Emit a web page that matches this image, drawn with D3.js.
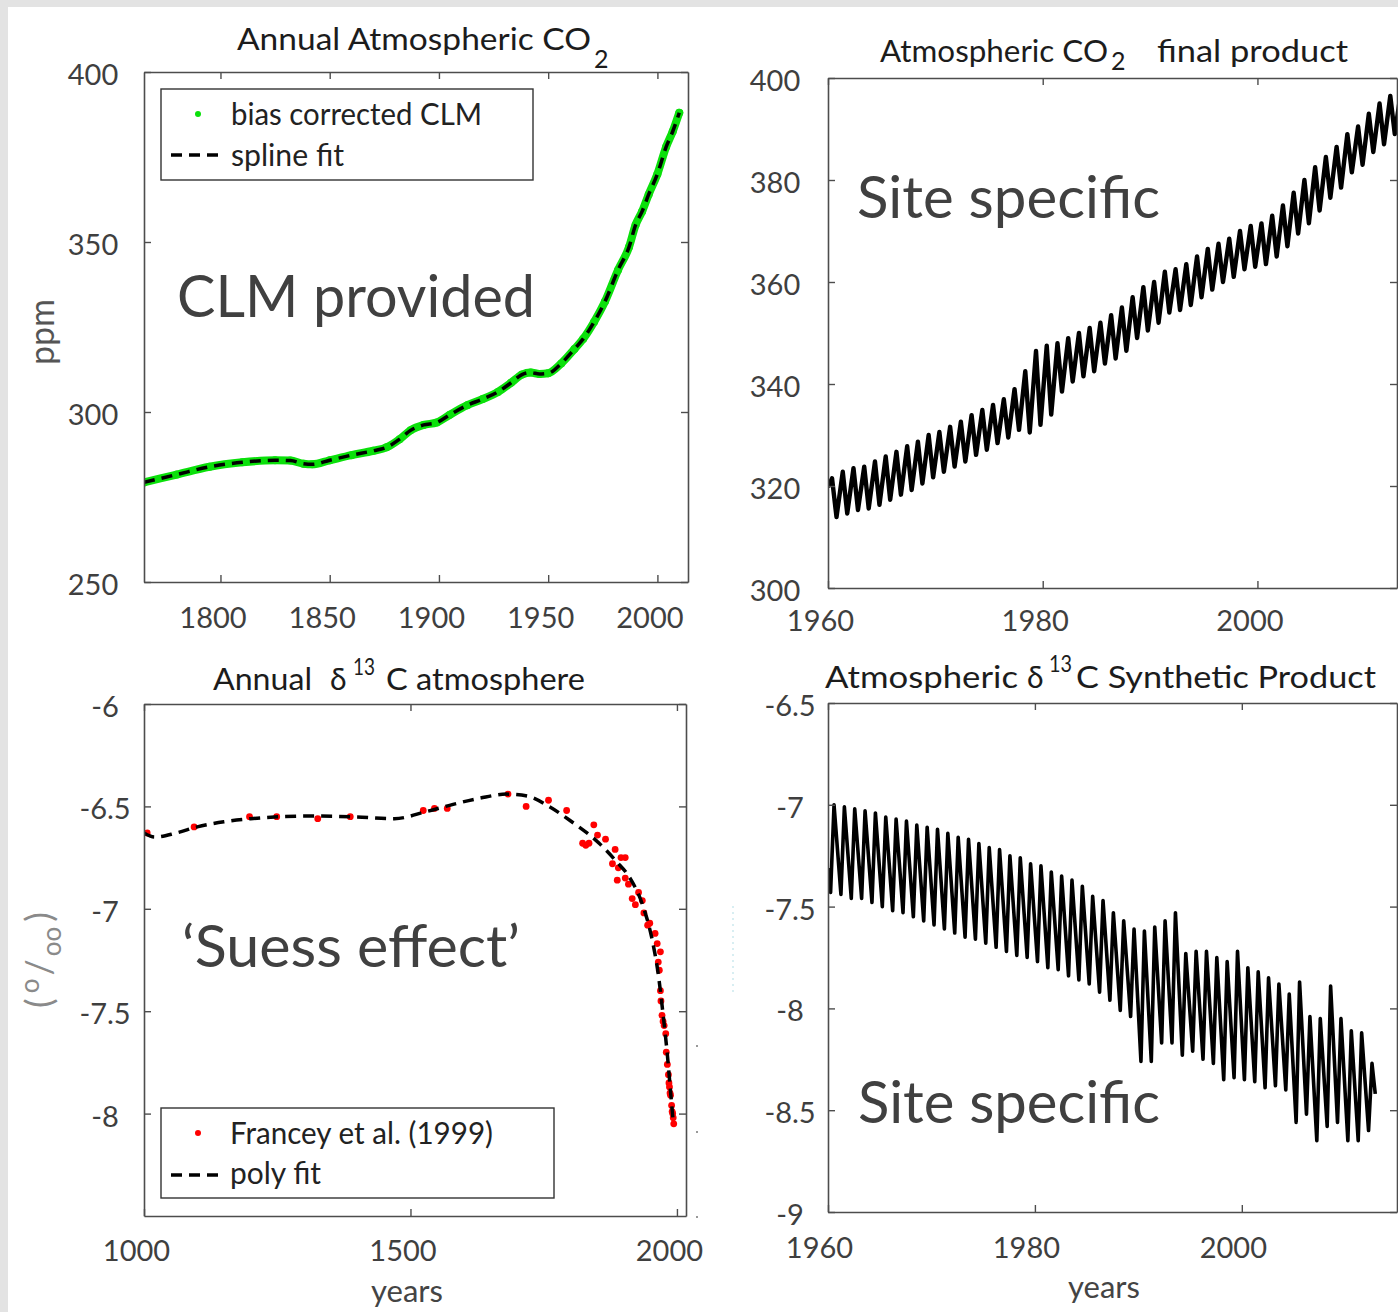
<!DOCTYPE html>
<html>
<head>
<meta charset="utf-8">
<script src="https://cdn.jsdelivr.net/npm/d3@7"></script>
<style>
body { margin: 0; background: #fff; }
</style>
</head>
<body>
<svg id="fig" width="1398" height="1312"></svg>
<script>
// ---------- DATA ----------
// top left: annual atmospheric CO2 (ppm), bias corrected CLM and its spline fit
const clmYears = [1765,1780,1795,1810,1825,1832,1838,1842,1850,1860,1870,1876,1882,1887,1893,1899,1905,1913,1920,1927,1933,1938,1942,1946,1950,1956,1962,1966,1971,1976,1982,1987,1990,1993,1996,2000,2004,2007,2010]
const clmPpm = [279.3,281.6,283.9,285.2,285.8,285.7,284.8,284.6,285.8,287.3,288.6,289.6,292.0,294.6,296.2,296.9,299.2,302.0,303.8,305.9,308.6,311.0,311.6,311.2,311.4,314.3,318.5,321.5,326.5,332.5,341.8,348.5,355.0,359.0,364.0,370.0,378.0,382.5,388.0]

// top right: site specific CO2, seasonal maximum / minimum of each year
const co2Years = d3.range(1960, 2014)
const co2Start = 319.8
const co2Peak = [321.5,322.8,323.5,323.8,324.8,325.8,326.7,327.8,328.7,330.0,
	330.6,331.6,332.6,333.9,334.9,335.9,337.0,339.0,342.5,346.5,
	347.5,348.0,349.0,350.0,351.0,352.0,353.5,355.0,357.0,359.0,
	360.0,362.0,362.5,363.5,365.0,366.5,367.5,368.5,370.0,371.0,
	371.5,373.0,375.0,377.5,380.0,382.5,384.5,386.5,389.0,390.5,
	393.0,395.0,396.5,397.5]
const co2Trough = [313.9,314.6,315.3,315.6,316.3,317.3,318.3,319.2,320.5,321.7,
	322.8,323.8,324.8,326.1,327.1,328.4,329.5,331.0,330.5,332.0,
	334.0,338.5,340.5,341.5,342.5,344.0,345.0,346.5,349.0,350.5,
	352.0,354.0,354.5,355.5,357.0,358.5,360.0,361.0,362.5,363.0,
	363.5,365.0,367.0,369.5,371.5,374.0,376.5,378.5,381.5,383.0,
	385.5,387.0,389.0,390.0]
const co2PeakMonth = 4.5      // month of the yearly maximum
const co2TroughMonth = 9.5    // month of the yearly minimum

// bottom left: Francey et al. (1999) d13C and the poly fit
const franceyYears = [1006,1094,1198,1249,1326,1387,1524,1545,1569,1683,1717,1759,1793,1823,1829,1835,1844,1851,1866,1879,1884,1888,1890,1895,1903,1903,1909,1916,1922,1928,1935,1938,1945,1949,1959,1963,1965,1967,1969,1969,1970,1972,1974,1976,1979,1980,1982,1984,1985,1986,1987,1988,1990,1991,1992,1993,1994]
const franceyD13C = [-6.63,-6.60,-6.55,-6.55,-6.56,-6.55,-6.52,-6.51,-6.51,-6.44,-6.50,-6.47,-6.52,-6.68,-6.69,-6.68,-6.59,-6.64,-6.66,-6.78,-6.71,-6.86,-6.80,-6.75,-6.75,-6.85,-6.88,-6.95,-6.98,-6.92,-6.96,-7.02,-7.08,-7.07,-7.12,-7.17,-7.26,-7.30,-7.21,-7.40,-7.45,-7.52,-7.55,-7.57,-7.61,-7.70,-7.76,-7.81,-7.85,-7.87,-7.90,-7.91,-7.96,-7.99,-8.00,-8.02,-8.05]
const polyYears = [1000,1020,1060,1100,1150,1200,1260,1320,1400,1470,1530,1580,1630,1680,1720,1760,1800,1854,1885,1913,1935,1954,1965,1974,1982,1988,1993]
const polyD13C = [-6.63,-6.65,-6.63,-6.60,-6.575,-6.56,-6.55,-6.547,-6.552,-6.56,-6.525,-6.49,-6.46,-6.44,-6.45,-6.50,-6.57,-6.68,-6.765,-6.855,-6.977,-7.157,-7.32,-7.516,-7.712,-7.892,-8.04]

// bottom right: synthetic d13C, seasonal maximum / minimum of each year
const d13Years = d3.range(1960, 2013)
const d13Start = -7.31
const d13End = [2012.9, -8.42]
const d13Peak = [-7.00,-7.01,-7.02,-7.03,-7.04,-7.06,-7.07,-7.08,-7.10,-7.11,
	-7.12,-7.14,-7.16,-7.17,-7.19,-7.21,-7.22,-7.25,-7.26,-7.29,
	-7.30,-7.33,-7.35,-7.37,-7.40,-7.45,-7.47,-7.53,-7.57,-7.61,
	-7.62,-7.60,-7.57,-7.53,-7.73,-7.72,-7.72,-7.75,-7.77,-7.72,
	-7.80,-7.82,-7.85,-7.88,-7.93,-7.87,-8.04,-8.05,-7.89,-8.05,
	-8.11,-8.12,-8.27]
const d13Trough = [-7.43,-7.44,-7.46,-7.46,-7.48,-7.50,-7.52,-7.53,-7.55,-7.57,
	-7.59,-7.61,-7.63,-7.65,-7.66,-7.68,-7.70,-7.72,-7.74,-7.75,
	-7.77,-7.80,-7.81,-7.84,-7.86,-7.88,-7.92,-7.96,-8.01,-8.04,
	-8.26,-8.26,-8.17,-8.17,-8.23,-8.21,-8.25,-8.27,-8.35,-8.34,
	-8.35,-8.36,-8.39,-8.38,-8.40,-8.56,-8.52,-8.65,-8.58,-8.56,
	-8.65,-8.65,-8.60]
const d13TroughMonth = 3
const d13PeakMonth = 7

// ticks
const xTicks1 = [1800,1850,1900,1950,2000]
const yTicks1 = [250,300,350,400]
const xTicks2 = [1960,1980,2000]
const yTicks2 = [300,320,340,360,380,400]
const xTicks3 = [1000,1500,2000]
const yTicks3 = [-8,-7.5,-7,-6.5,-6]
const xTicks4 = [1960,1980,2000]
const yTicks4 = [-9,-8.5,-8,-7.5,-7,-6.5]

// ---------- LAYOUT ----------
const WIDTH = 1398
const HEIGHT = 1312
const FONT = "Lato, 'Open Sans', sans-serif"
const AXIS_COLOR = "#4d4d4d"
const TICK_TEXT = "#3f3f3f"
const GREEN = "#0be00b"

const svg = d3.select("#fig")

// grey slide frame round the figure
svg.append("rect").attr("width", WIDTH).attr("height", HEIGHT).attr("fill", "#e3e3e3")
svg.append("rect").attr("x", 8).attr("y", 7).attr("width", WIDTH - 8).attr("height", HEIGHT - 7).attr("fill", "#fff")

let clipCount = 0
function makePanel(box, xDomain, yDomain) {
	const w = box.right - box.left
	const h = box.bottom - box.top
	const g = svg.append("g").attr("transform", `translate(${box.left},${box.top})`)
	const x = d3.scaleLinear().domain(xDomain).range([0, w])
	const y = d3.scaleLinear().domain(yDomain).range([h, 0])
	const id = "clip" + (++clipCount)
	g.append("clipPath").attr("id", id).append("rect").attr("width", w).attr("height", h)
	const plot = g.append("g").attr("clip-path", `url(#${id})`)
	return { box, w, h, g, x, y, plot }
}

function styleAxis(sel) {
	sel.attr("font-family", FONT).attr("font-size", 29)
	sel.select(".domain").attr("stroke", AXIS_COLOR).attr("stroke-width", 1.6)
	sel.selectAll(".tick line").attr("stroke", AXIS_COLOR).attr("stroke-width", 1.4)
	sel.selectAll(".tick text").attr("fill", TICK_TEXT)
}

// matlab style box: ticks inward on all four sides, labels bottom and left
function drawAxes(p, xTicks, yTicks, opt) {
	const fmt = d => String(d)
	p.g.append("g").attr("transform", `translate(0,${p.h})`)
		.call(d3.axisBottom(p.x).tickValues(xTicks).tickSize(-7).tickSizeOuter(0).tickFormat(fmt))
		.call(styleAxis)
		.call(a => a.selectAll(".tick text")
			.attr("y", opt.xLabelBase - p.box.bottom).attr("dy", null).attr("dx", opt.xLabelDx))
	p.g.append("g")
		.call(d3.axisTop(p.x).tickValues(xTicks).tickSize(-7).tickSizeOuter(0).tickFormat(""))
		.call(styleAxis)
	p.g.append("g")
		.call(d3.axisLeft(p.y).tickValues(yTicks).tickSize(-7).tickSizeOuter(0).tickFormat(fmt))
		.call(styleAxis)
		.call(a => a.selectAll(".tick text")
			.attr("x", opt.yLabelX - p.box.left).attr("text-anchor", "middle")
			.attr("y", 2).attr("dy", "0.36em"))
	p.g.append("g").attr("transform", `translate(${p.w},0)`)
		.call(d3.axisRight(p.y).tickValues(yTicks).tickSize(-7).tickSizeOuter(0).tickFormat(""))
		.call(styleAxis)
}

function text(x, y, str, size, color, len) {
	const t = svg.append("text")
		.attr("x", x).attr("y", y)
		.attr("font-family", FONT).attr("font-size", size)
		.attr("fill", color)
		.text(str)
	if (len) t.attr("textLength", len).attr("lengthAdjust", "spacingAndGlyphs")
	return t
}

function legendBox(x0, y0, x1, y1) {
	svg.append("rect")
		.attr("x", x0).attr("y", y0).attr("width", x1 - x0).attr("height", y1 - y0)
		.attr("fill", "#fff").attr("stroke", "#333").attr("stroke-width", 1.4)
}

const DASH = "11,7"

// ---------- PANEL 1: annual atmospheric CO2 ----------
const p1 = makePanel({ left: 144, top: 72, right: 688, bottom: 582 }, [1765, 2014], [250, 400])
const clm = d3.zip(clmYears, clmPpm)
const line1 = d3.line().x(d => p1.x(d[0])).y(d => p1.y(d[1])).curve(d3.curveMonotoneX)

p1.plot.append("path").datum(clm)
	.attr("fill", "none").attr("stroke", GREEN).attr("stroke-width", 8)
	.attr("stroke-linecap", "round").attr("d", line1)
p1.plot.selectAll("circle").data(clm).join("circle")
	.attr("cx", d => p1.x(d[0])).attr("cy", d => p1.y(d[1])).attr("r", 4).attr("fill", GREEN)
p1.plot.append("path").datum(clm)
	.attr("fill", "none").attr("stroke", "#000").attr("stroke-width", 3.5)
	.attr("stroke-dasharray", DASH).attr("d", line1)

drawAxes(p1, xTicks1, yTicks1, { xLabelBase: 628, xLabelDx: -8, yLabelX: 93 })

// ---------- PANEL 2: CO2 final product ----------
const p2 = makePanel({ left: 828, top: 78, right: 1397, bottom: 588 }, [1960, 2013], [300, 400])
const co2Monthly = [[co2Years[0], co2Start]]
co2Years.forEach((yr, i) => {
	co2Monthly.push([yr + co2PeakMonth / 12, co2Peak[i]])
	co2Monthly.push([yr + co2TroughMonth / 12, co2Trough[i]])
})
p2.plot.append("path").datum(co2Monthly)
	.attr("fill", "none").attr("stroke", "#000").attr("stroke-width", 4.4)
	.attr("stroke-linejoin", "round")
	.attr("d", d3.line().x(d => p2.x(d[0])).y(d => p2.y(d[1])))

drawAxes(p2, xTicks2, yTicks2, { xLabelBase: 631, xLabelDx: -8, yLabelX: 775 })

// ---------- PANEL 3: annual d13C ----------
const p3 = makePanel({ left: 144, top: 704, right: 686, bottom: 1216 }, [1000, 2017], [-8.5, -6])
p3.plot.selectAll("circle").data(d3.zip(franceyYears, franceyD13C)).join("circle")
	.attr("cx", d => p3.x(d[0])).attr("cy", d => p3.y(d[1])).attr("r", 3.4).attr("fill", "#ff0000")
p3.plot.append("path").datum(d3.zip(polyYears, polyD13C))
	.attr("fill", "none").attr("stroke", "#000").attr("stroke-width", 3.5)
	.attr("stroke-dasharray", DASH)
	.attr("d", d3.line().x(d => p3.x(d[0])).y(d => p3.y(d[1])).curve(d3.curveMonotoneX))

drawAxes(p3, xTicks3, yTicks3, { xLabelBase: 1261, xLabelDx: -8, yLabelX: 105 })

// ---------- PANEL 4: d13C synthetic product ----------
const p4 = makePanel({ left: 828, top: 703, right: 1397, bottom: 1212 }, [1960, 2015], [-9, -6.5])
const d13Monthly = [[d13Years[0], d13Start]]
d13Years.forEach((yr, i) => {
	d13Monthly.push([yr + d13TroughMonth / 12, d13Trough[i]])
	d13Monthly.push([yr + d13PeakMonth / 12, d13Peak[i]])
})
d13Monthly.push(d13End)
p4.plot.append("path").datum(d13Monthly)
	.attr("fill", "none").attr("stroke", "#000").attr("stroke-width", 3.6)
	.attr("stroke-linejoin", "round")
	.attr("d", d3.line().x(d => p4.x(d[0])).y(d => p4.y(d[1])))

drawAxes(p4, xTicks4, yTicks4, { xLabelBase: 1258, xLabelDx: -9, yLabelX: 790 })

// ---------- TITLES ----------
const TITLE = "#1c1c1c"
text(237, 50, "Annual Atmospheric CO", 31, TITLE, 354)
text(594, 68, "2", 25, TITLE)

text(880, 62, "Atmospheric CO", 31, TITLE, 228)
text(1111, 70, "2", 25, TITLE)
text(1157, 62, "final product", 31, TITLE, 191)

text(213, 690, "Annual", 31, TITLE, 99)
text(330, 690, "δ", 30, TITLE)
text(353, 675, "13", 24, TITLE, 22)
text(386, 690, "C atmosphere", 31, TITLE, 199)

text(825, 688, "Atmospheric", 31, TITLE, 193)
text(1027, 688, "δ", 30, TITLE)
text(1049, 672, "13", 24, TITLE, 23)
text(1076, 688, "C Synthetic Product", 31, TITLE, 300)

// ---------- AXIS LABELS ----------
svg.append("text")
	.attr("transform", "translate(54,332) rotate(-90)")
	.attr("text-anchor", "middle").attr("font-family", FONT).attr("font-size", 34)
	.attr("fill", "#555").text("ppm")

const permil = svg.append("text")
	.attr("transform", "translate(52,960) rotate(-90)")
	.attr("text-anchor", "middle").attr("font-family", FONT).attr("font-size", 36)
	.attr("fill", "#8a8a8a")
permil.append("tspan").text("(")
permil.append("tspan").attr("dx", 5).attr("dy", -13).attr("font-size", 26).text("o")
permil.append("tspan").attr("dx", 3).attr("dy", 13).text("/")
permil.append("tspan").attr("dx", 3).attr("dy", 9).attr("font-size", 26).text("oo")
permil.append("tspan").attr("dx", 5).attr("dy", -9).text(")")

svg.append("text").attr("x", 407).attr("y", 1302).attr("text-anchor", "middle")
	.attr("font-family", FONT).attr("font-size", 31).attr("fill", "#444").text("years")
svg.append("text").attr("x", 1104).attr("y", 1298).attr("text-anchor", "middle")
	.attr("font-family", FONT).attr("font-size", 31).attr("fill", "#444").text("years")

// ---------- LEGENDS ----------
legendBox(161, 89, 533, 180)
svg.append("circle").attr("cx", 198).attr("cy", 114).attr("r", 3).attr("fill", GREEN)
text(231, 125, "bias corrected CLM", 31, "#222", 251)
svg.append("line").attr("x1", 171).attr("x2", 224).attr("y1", 155).attr("y2", 155)
	.attr("stroke", "#000").attr("stroke-width", 3.5).attr("stroke-dasharray", DASH)
text(231, 166, "spline fit", 31, "#222", 113)

legendBox(161, 1108, 554, 1198)
svg.append("circle").attr("cx", 198).attr("cy", 1133).attr("r", 3).attr("fill", "#ff0000")
text(230, 1144, "Francey et al. (1999)", 31, "#222", 263)
svg.append("line").attr("x1", 171).attr("x2", 224).attr("y1", 1175).attr("y2", 1175)
	.attr("stroke", "#000").attr("stroke-width", 3.5).attr("stroke-dasharray", DASH)
text(230, 1184, "poly fit", 31, "#222", 91)

// ---------- ANNOTATIONS ----------
const NOTE = "#404040"
text(177, 317, "CLM provided", 58, NOTE, 358)
text(857, 218, "Site specific", 58, NOTE, 303)
text(182, 967, "\u2018Suess effect\u2019", 58, NOTE, 338)
text(858, 1123, "Site specific", 58, NOTE, 302)

// faint specks left over between the lower panels in the original slide
svg.append("line").attr("x1", 733).attr("x2", 733).attr("y1", 906).attr("y2", 994)
	.attr("stroke", "#bfe3ea").attr("stroke-width", 1.2).attr("stroke-dasharray", "2,4")
svg.selectAll("circle.speck").data([1046, 1132, 1217]).join("circle")
	.attr("class", "speck").attr("cx", 697).attr("cy", d => d).attr("r", 1).attr("fill", "#777")
</script>
</body>
</html>
